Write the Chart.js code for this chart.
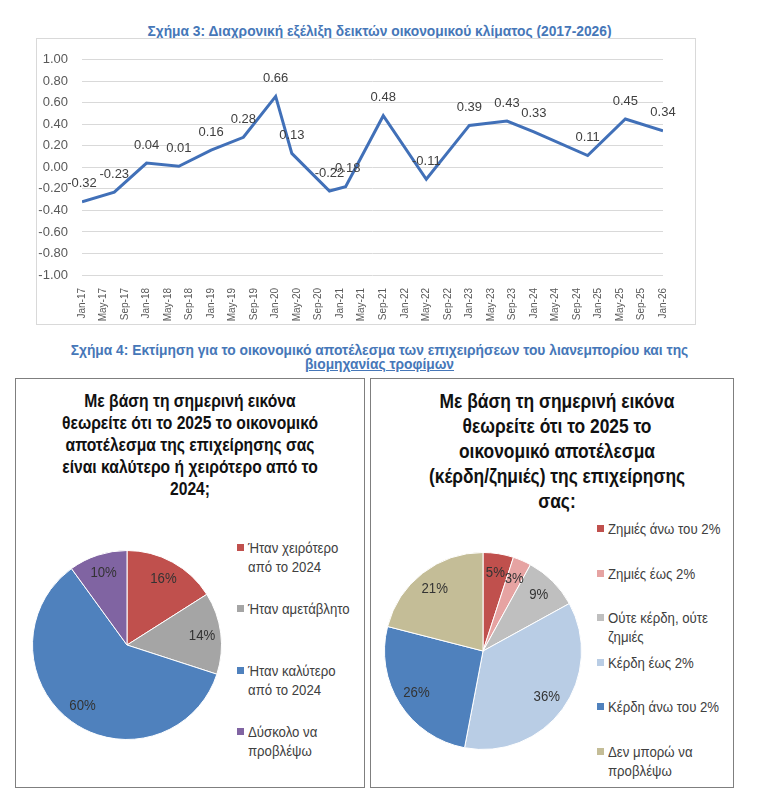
<!DOCTYPE html>
<html>
<head>
<meta charset="utf-8">
<script src="https://cdn.jsdelivr.net/npm/chart.js@4.4.1/dist/chart.umd.min.js"></script>
<style>
  body { margin: 0; width: 759px; height: 802px; background: #fff; position: relative; overflow: hidden; font-family: "Liberation Sans", Arial, sans-serif; }
  .abs { position: absolute; }
  .figtitle { left: 0; width: 759px; text-align: center; color: #4677b8; font-weight: bold; font-size: 13.8px; }
  .box { box-sizing: border-box; }
  .pietitle { text-align: center; font-weight: bold; color: #111; }
  .pietitle div { transform: scaleX(0.87); transform-origin: center; }
  .leg { color: #404040; font-size: 15px; line-height: 19px; }
  .leg i { position: absolute; width: 7px; height: 7px; }
  .leg div { transform: scaleX(0.88); transform-origin: left; white-space: nowrap; }
</style>
</head>
<body>
<div class="abs figtitle" style="top:24px;">Σχήμα 3: Διαχρονική εξέλιξη δεικτών οικονομικού κλίματος (2017-2026)</div>
<div class="abs box" style="left:36px;top:38px;width:660px;height:287px;border:1px solid #d9d9d9;"></div>
<canvas id="lineChart" class="abs" style="left:36px;top:38px;" width="659" height="286"></canvas>

<div class="abs figtitle" style="top:344px;line-height:14px;">Σχήμα 4: Εκτίμηση για το οικονομικό αποτέλεσμα των επιχειρήσεων του λιανεμπορίου και της<br><u>βιομηχανίας τροφίμων</u></div>

<div class="abs box" style="left:15px;top:378px;width:350px;height:410px;border:1.5px solid #7f7f7f;"></div>
<div class="abs box" style="left:370px;top:378px;width:364px;height:410px;border:1.5px solid #7f7f7f;"></div>

<div class="abs pietitle" style="left:15px;top:390px;width:350px;font-size:18px;line-height:22px;"><div>Με βάση τη σημερινή εικόνα<br>θεωρείτε ότι το 2025 το οικονομικό<br>αποτέλεσμα της επιχείρησης σας<br>είναι καλύτερο ή χειρότερο από το<br>2024;</div></div>
<div class="abs pietitle" style="left:372px;top:389px;width:370px;font-size:20px;line-height:25px;"><div>Με βάση τη σημερινή εικόνα<br>θεωρείτε ότι το 2025 το<br>οικονομικό αποτέλεσμα<br>(κέρδη/ζημιές) της επιχείρησης<br>σας:</div></div>

<canvas id="pieLeft" class="abs" style="left:32px;top:550px;" width="190" height="190"></canvas>
<canvas id="pieRight" class="abs" style="left:384px;top:552px;" width="198" height="198"></canvas>

<div id="legLeft"></div>
<div id="legRight"></div>

<script>
// Σχήμα 3 - survey dates and index values
const surveyMonths = ["2017-01", "2017-07", "2018-01", "2018-07", "2019-01", "2019-07", "2020-01", "2020-04", "2020-11",
  "2021-02", "2021-09", "2022-05", "2023-01", "2023-08", "2024-01", "2024-11", "2025-06", "2026-01"];
const climateIndex = [-0.32, -0.23, 0.04, 0.01, 0.16, 0.28, 0.66, 0.13, -0.22, -0.18, 0.48, -0.11, 0.39, 0.43, 0.33, 0.11, 0.45, 0.34];
const monthNames = ["Jan", "Feb", "Mar", "Apr", "May", "Jun", "Jul", "Aug", "Sep", "Oct", "Nov", "Dec"];
const yTicks = [-1, -0.8, -0.6, -0.4, -0.2, 0, 0.2, 0.4, 0.6, 0.8, 1];

// Σχήμα 4 - left pie
const leftLabels = [["Ήταν χειρότερο", "από το 2024"], ["Ήταν αμετάβλητο"], ["Ήταν καλύτερο", "από το 2024"], ["Δύσκολο να", "προβλέψω"]];
const leftValues = [16, 14, 60, 10];
const leftColors = ["#c0504d", "#a5a5a5", "#4f81bd", "#8064a2"];

// Σχήμα 4 - right pie
const rightLabels = [["Ζημιές άνω του 2%"], ["Ζημιές έως 2%"], ["Ούτε κέρδη, ούτε", "ζημιές"], ["Κέρδη έως 2%"], ["Κέρδη άνω του 2%"], ["Δεν μπορώ να", "προβλέψω"]];
const rightValues = [5, 3, 9, 36, 26, 21];
const rightColors = ["#c0504d", "#e6a3a2", "#bfbfbf", "#b9cde5", "#4f81bd", "#c4bd97"];

function monthIndex(s) {
  const [y, m] = s.split("-").map(Number);
  return (y - 2017) * 12 + (m - 1);
}

const linePoints = surveyMonths.map((m, i) => ({ x: monthIndex(m), y: climateIndex[i] }));

const lineLabels = {
  id: "lineLabels",
  afterDatasetsDraw(chart) {
    const ctx = chart.ctx;
    const meta = chart.getDatasetMeta(0);
    ctx.save();
    ctx.font = "13px 'Liberation Sans', Arial, sans-serif";
    ctx.fillStyle = "#404040";
    ctx.textAlign = "center";
    ctx.textBaseline = "middle";
    meta.data.forEach((pt, i) => {
      ctx.fillText(climateIndex[i].toFixed(2), pt.x, pt.y - 18);
    });
    ctx.restore();
  }
};

new Chart(document.getElementById("lineChart"), {
  type: "line",
  data: {
    datasets: [{
      data: linePoints,
      borderColor: "#4170b8",
      borderWidth: 3,
      pointRadius: 0,
      tension: 0,
      fill: false
    }]
  },
  options: {
    responsive: false,
    animation: false,
    layout: { padding: { top: 13, right: 32 } },
    plugins: { legend: { display: false }, tooltip: { enabled: false } },
    scales: {
      x: {
        type: "linear",
        min: 0,
        max: monthIndex("2026-01"),
        afterFit(scale) { scale.height = 49; },
        grid: { display: false },
        border: { display: false },
        ticks: {
          stepSize: 4,
          autoSkip: false,
          maxRotation: 90,
          minRotation: 90,
          padding: 5,
          color: "#595959",
          font: { size: 10, family: "'Liberation Sans', Arial, sans-serif" },
          callback: v => monthNames[v % 12] + "-" + (17 + Math.floor(v / 12))
        }
      },
      y: {
        min: yTicks[0],
        max: yTicks[yTicks.length - 1],
        afterFit(scale) { scale.width = 46; },
        afterBuildTicks(scale) { scale.ticks = yTicks.map(v => ({ value: v })); },
        grid: { color: "#d9d9d9", drawTicks: false, lineWidth: 1 },
        border: { display: false },
        ticks: {
          padding: 14,
          color: "#595959",
          font: { size: 13, family: "'Liberation Sans', Arial, sans-serif" },
          callback: v => v.toFixed(2)
        }
      }
    }
  },
  plugins: [lineLabels]
});

function pieLabelPlugin(values) {
  return {
    id: "pieLabels",
    afterDatasetsDraw(chart) {
      const ctx = chart.ctx;
      const meta = chart.getDatasetMeta(0);
      meta.data.forEach((arc, i) => {
        const p = arc.getProps(["x", "y", "startAngle", "endAngle", "outerRadius"]);
        const mid = (p.startAngle + p.endAngle) / 2;
        const r = p.outerRadius * 0.8;
        ctx.save();
        ctx.translate(p.x + Math.cos(mid) * r, p.y + Math.sin(mid) * r);
        ctx.scale(0.88, 1);
        ctx.font = "15px 'Liberation Sans', Arial, sans-serif";
        ctx.fillStyle = "#333";
        ctx.textAlign = "center";
        ctx.textBaseline = "middle";
        ctx.fillText(values[i] + "%", 0, 0);
        ctx.restore();
      });
    }
  };
}

function makePie(id, labels, values, colors) {
  new Chart(document.getElementById(id), {
    type: "pie",
    data: {
      labels: labels.map(l => l.join(" ")),
      datasets: [{ data: values, backgroundColor: colors, borderColor: "#ffffff", borderWidth: 1 }]
    },
    options: {
      responsive: false,
      animation: false,
      plugins: { legend: { display: false }, tooltip: { enabled: false } }
    },
    plugins: [pieLabelPlugin(values)]
  });
}

makePie("pieLeft", leftLabels, leftValues, leftColors);
makePie("pieRight", rightLabels, rightValues, rightColors);

function makeLegend(id, labels, colors, left, firstY, pitch) {
  const host = document.getElementById(id);
  labels.forEach((lines, i) => {
    const item = document.createElement("div");
    item.className = "abs leg";
    item.style.left = left + "px";
    item.style.top = (firstY + i * pitch - 10) + "px";
    const sq = document.createElement("i");
    sq.style.background = colors[i];
    sq.style.left = "0px";
    sq.style.top = "6px";
    item.appendChild(sq);
    const txt = document.createElement("div");
    txt.style.marginLeft = "11px";
    txt.innerHTML = lines.join("<br>");
    item.appendChild(txt);
    host.appendChild(item);
  });
}

makeLegend("legLeft", leftLabels, leftColors, 237, 548, 61.3);
makeLegend("legRight", rightLabels, rightColors, 597, 529, 44.6);
</script>
</body>
</html>
